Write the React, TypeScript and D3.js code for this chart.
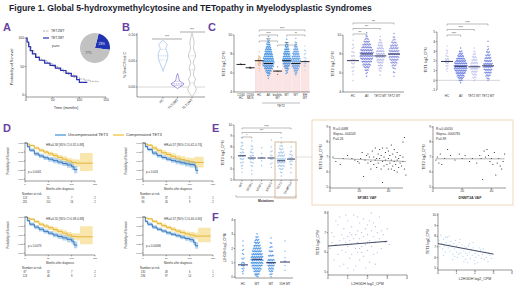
import React from "react";
import * as d3 from "d3";

const FONT = "'Liberation Sans', Arial, sans-serif";
const PURPLE = "#6b3fa0";
const INK = "#333";

const TITLE = "Figure 1. Global 5-hydroxymethylcytosine and TETopathy in Myelodysplastic Syndromes";

// ---------- Panel A ----------
const kmA_WT = [[0,100],[3,92],[6,85],[10,78],[15,72],[20,67],[25,63],[30,60],[40,55],[50,50],[60,45],[70,40],[80,35],[90,31],[100,28],[110,26],[120,24],[135,22]];
const kmA_MT = [[0,100],[2,93],[5,85],[8,78],[12,72],[18,66],[25,61],[35,56],[45,52],[55,47],[65,43],[75,38],[85,33],[95,27],[100,22],[115,22]];
const kmA_xTicks = [0, 50, 100, 150];
const kmA_yTicks = [0, 50, 100];
const pieLabels = ["TET2MT", "TET2WT"];
const pieValues = [23, 77];

// ---------- Panel B ----------
const bCats = ["HC", "TET2MT", "TET2WT"];
const bProfileHC = [[0.03,0],[0.035,1],[0.04,2.5],[0.045,4],[0.05,5.5],[0.055,6.5],[0.06,7],[0.065,6.5],[0.07,5],[0.074,4],[0.078,5],[0.082,6],[0.085,4],[0.088,1.5],[0.09,0]];
const bProfileMT = [[-0.003,0],[0,3],[0.003,7],[0.006,9],[0.009,6],[0.012,3],[0.016,2],[0.02,1.5],[0.024,0.5],[0.026,0]];
const bProfileWT = [[-0.02,0],[-0.015,2],[-0.01,4.5],[-0.005,6],[0,5],[0.005,3],[0.01,3.5],[0.015,5],[0.02,3],[0.025,2],[0.03,2.5],[0.035,4],[0.04,3.5],[0.045,2],[0.05,2.2],[0.055,4],[0.06,5],[0.065,4.5],[0.07,3],[0.075,2],[0.08,2.5],[0.085,3],[0.09,2.5],[0.095,1.5],[0.1,1],[0.104,0]];
const bQuartHC = [0.052, 0.06, 0.072];
const bQuartMT = [0.003, 0.006, 0.011];
const bQuartWT = [0.008, 0.033, 0.06];
const bTicks = [0, 0.05, 0.1];

// ---------- Panel C (left) ----------
const cLeftCats = ["CD34\nHC", "CD34\nMDS", "HC", "All", "biallelic\nMT", "MT", "WT", "EH\nWT"];
const cLeftMedians = [6.9, 6.55, 7.3, 7.0, 6.2, 7.3, 7.0, 7.2];
const cLeftBars = [0, 0, 7.3, 7.1, 6.3, 7.3, 7.1, 7.2];
const cLeftBins = [
  [[6.9,2]],
  [[6.5,2],[6.6,1]],
  [[8.2,1],[7.8,2],[7.6,3],[7.4,4],[7.2,4],[7.0,3],[6.8,2],[6.5,1],[6.3,1]],
  [[9.8,1],[9.5,2],[9.25,4],[9,6],[8.75,8],[8.5,10],[8.25,12],[8,14],[7.75,16],[7.5,18],[7.25,20],[7,20],[6.75,18],[6.5,14],[6.25,10],[6,6],[5.75,3],[5.5,1]],
  [[6.6,1],[6.2,2],[5.9,1]],
  [[9.5,1],[9.25,2],[9,4],[8.75,5],[8.5,7],[8.25,9],[8,11],[7.75,12],[7.5,14],[7.25,14],[7,12],[6.75,9],[6.5,6],[6.25,3],[6,2]],
  [[9.6,1],[9.25,2],[9,3],[8.75,5],[8.5,7],[8.25,9],[8,11],[7.75,13],[7.5,15],[7.25,16],[7,16],[6.75,13],[6.5,9],[6.25,6],[6,3],[5.75,1]],
  [[8.8,1],[8.4,2],[8,2],[7.6,3],[7.3,3],[7,3],[6.7,2],[6.3,1]],
];
const cLeftColors = ["#555", "#555", "#e2b27a", "#3b8de0", "#777", "#3b8de0", "#5a9de6", "#a9c8ee"];
const cLeftTicks = [4, 6, 8, 10];
const cLeftSig = [[2,7,"****"],[2,4,"****"],[5,7,"**"],[2,4,"****"],[4,6,"****"]];
const cLeftSigY = [30, 35, 35, 41, 45];

// ---------- Panel C (middle) ----------
const cMidCats = ["HC", "All", "TET2 MT", "TET2 WT"];
const cMidMedians = [7.3, 8.0, 7.8, 8.0];
const cMidBins = [
  [[9.4,1],[9,2],[8.6,2],[8.2,3],[7.8,4],[7.4,5],[7,4],[6.6,3],[6.2,2],[5.8,1],[5.2,1]],
  [[10.2,1],[9.9,2],[9.6,4],[9.3,7],[9,10],[8.7,13],[8.4,16],[8.1,18],[7.8,18],[7.5,16],[7.2,13],[6.9,10],[6.6,7],[6.3,4],[6,2],[5.6,1]],
  [[9.8,1],[9.5,2],[9.2,4],[8.9,6],[8.6,8],[8.3,10],[8,11],[7.7,11],[7.4,9],[7.1,7],[6.8,5],[6.5,3],[6.2,2],[5.8,1]],
  [[10.1,1],[9.8,2],[9.5,3],[9.2,6],[8.9,9],[8.6,11],[8.3,13],[8,14],[7.7,13],[7.4,11],[7.1,8],[6.8,5],[6.5,3],[6.1,2],[5.7,1]],
];
const cMidColors = ["#c5c5e0", "#7b83d8", "#b3b6e8", "#8b90dc"];
const cMidTicks = [4, 6, 8, 10];
const cMidSig = [[0,3,"***"],[0,2,"***"],[0,1,"***"]];

// ---------- Panel C (right) ----------
const cRightCats = ["HC", "All", "TET2 WT", "TET2 MT"];
const cRightMedians = [1.95, 1.45, 1.4, 1.5];
const cRightBins = [
  [[3.5,1],[3.1,2],[2.8,2],[2.5,3],[2.2,4],[2,5],[1.8,4],[1.5,3],[1.2,2],[0.9,1]],
  [[3.3,1],[3,3],[2.75,5],[2.5,8],[2.25,11],[2,14],[1.75,17],[1.5,19],[1.25,18],[1,16],[0.75,13],[0.5,10],[0.25,7],[0,4],[-0.2,1]],
  [[3.3,1],[3,2],[2.7,3],[2.4,5],[2.1,7],[1.8,9],[1.5,10],[1.2,10],[0.9,8],[0.6,6],[0.3,4],[0,2]],
  [[4,1],[3.5,1],[3.2,2],[2.9,4],[2.6,6],[2.3,8],[2,10],[1.7,12],[1.4,12],[1.1,11],[0.8,9],[0.5,6],[0.2,3],[0,1]],
];
const cRightColors = ["#c9c9e6", "#6d7ee0", "#c0c3ee", "#7685e0"];
const cRightTicks = [-1, 0, 1, 2, 3, 4, 5];
const cRightSig = [[0,3,"****"],[0,2,"****"],[0,1,"****"]];

// ---------- Panel D ----------
const D_HR = ["HR=0.58 [95% CI 0.32-0.88]", "HR=0.57 [95% CI 0.42-0.76]", "HR=0.55 [95% CI 0.38-0.88]", "HR=0.57 [95% CI 0.40-0.80]"];
const D_P = ["p = 0.0001", "p = 0.003", "p = 0.0073", "p = 0.00096"];
const D_RISK_UNC = [["124","51","7","2"],["99","37","5","1"],["87","32","7","2"],["130","48","6","1"]];
const D_RISK_COMP = [["281","114","16","2"],["96","34","9","2"],["124","46","9","2"],["236","97","14","2"]];
const kmD1Blue = [[0,1,1,1],[5,0.9,0.86,0.94],[10,0.8,0.75,0.85],[20,0.7,0.64,0.76],[30,0.64,0.58,0.7],[40,0.59,0.53,0.65],[50,0.55,0.48,0.61],[60,0.51,0.44,0.58],[70,0.47,0.4,0.54],[80,0.43,0.36,0.5],[90,0.39,0.31,0.47],[100,0.34,0.25,0.43],[105,0.26,0.16,0.36],[112,0.26,0.16,0.36]];
const kmD1Yellow = [[0,1,1,1],[5,0.97,0.95,0.99],[10,0.93,0.9,0.96],[20,0.86,0.82,0.9],[30,0.8,0.75,0.85],[40,0.75,0.69,0.8],[50,0.7,0.64,0.76],[60,0.65,0.58,0.72],[70,0.6,0.53,0.67],[80,0.55,0.47,0.63],[90,0.5,0.42,0.58],[100,0.46,0.37,0.55],[110,0.44,0.34,0.54],[118,0.44,0.22,0.72],[145,0.44,0.22,0.72]];
const kmD2Blue = [[0,1,1,1],[5,0.9,0.86,0.94],[10,0.82,0.77,0.87],[20,0.72,0.66,0.78],[30,0.65,0.59,0.71],[40,0.6,0.54,0.66],[50,0.55,0.49,0.61],[60,0.51,0.45,0.58],[70,0.48,0.41,0.55],[80,0.45,0.38,0.52],[90,0.42,0.35,0.5],[100,0.4,0.32,0.48],[110,0.38,0.29,0.47],[113,0.24,0.14,0.34],[118,0.24,0.14,0.34]];
const kmD2Yellow = [[0,1,1,1],[5,0.97,0.94,0.99],[10,0.94,0.9,0.97],[20,0.86,0.8,0.91],[30,0.79,0.72,0.85],[40,0.73,0.66,0.8],[50,0.68,0.6,0.75],[60,0.63,0.55,0.71],[70,0.58,0.5,0.66],[80,0.54,0.45,0.63],[90,0.51,0.42,0.6],[100,0.48,0.38,0.58],[110,0.46,0.32,0.62],[130,0.46,0.3,0.64]];
const kmD3Blue = [[0,1,1,1],[5,0.9,0.86,0.94],[10,0.8,0.75,0.85],[20,0.72,0.66,0.78],[30,0.66,0.6,0.72],[40,0.6,0.54,0.66],[50,0.55,0.49,0.61],[60,0.5,0.44,0.57],[70,0.46,0.39,0.53],[80,0.42,0.35,0.49],[90,0.38,0.3,0.46],[100,0.33,0.25,0.42],[105,0.22,0.13,0.32],[112,0.22,0.13,0.32]];
const kmD3Yellow = [[0,1,1,1],[5,0.97,0.95,0.99],[10,0.94,0.91,0.97],[20,0.87,0.83,0.91],[30,0.8,0.75,0.85],[40,0.75,0.69,0.8],[50,0.7,0.64,0.76],[60,0.65,0.58,0.72],[70,0.6,0.53,0.67],[80,0.55,0.47,0.63],[90,0.5,0.42,0.58],[100,0.46,0.37,0.55],[110,0.45,0.35,0.55],[118,0.45,0.24,0.74],[145,0.45,0.24,0.74]];
const kmD4Blue = [[0,1,1,1],[5,0.88,0.84,0.92],[10,0.8,0.75,0.85],[20,0.72,0.67,0.77],[30,0.66,0.61,0.71],[40,0.61,0.56,0.66],[50,0.56,0.51,0.61],[60,0.52,0.47,0.57],[70,0.48,0.43,0.54],[80,0.44,0.38,0.5],[90,0.4,0.34,0.46],[100,0.37,0.3,0.44],[108,0.3,0.22,0.38],[112,0.2,0.12,0.3],[118,0.2,0.12,0.3]];
const kmD4Yellow = [[0,1,1,1],[5,0.97,0.95,0.99],[10,0.95,0.92,0.97],[20,0.88,0.84,0.92],[30,0.82,0.77,0.86],[40,0.76,0.71,0.81],[50,0.71,0.65,0.76],[60,0.66,0.6,0.72],[70,0.61,0.55,0.67],[80,0.57,0.5,0.64],[90,0.53,0.46,0.6],[100,0.5,0.42,0.58],[110,0.47,0.38,0.56],[118,0.47,0.3,0.7],[145,0.47,0.3,0.7]];
const kmDxTicks = [0, 50, 100, 150];
const kmDyTicks = [0, 0.25, 0.5, 0.75, 1];

// ---------- Panel E ----------
const eCats = ["WT", "SF3B1", "U2AF1", "SRSF2", "TET2", "DNMT3A"];
const eMedians = [7.2, 7.0, 7.0, 7.0, 6.75, 6.9];
const eBins = [
  [[8.8,1],[8.4,2],[8.1,2],[7.8,3],[7.5,4],[7.2,5],[6.9,4],[6.6,3],[6.3,2],[6,1],[5.7,1]],
  [[8.5,1],[8.1,2],[7.8,2],[7.5,3],[7.2,4],[6.9,4],[6.6,3],[6.3,2],[5.9,1],[5.5,1]],
  [[7.9,1],[7.4,1],[7.0,2],[6.7,1],[6.3,1]],
  [[8.6,1],[8.0,1],[7.6,2],[7.2,2],[6.9,2],[6.5,2],[6.1,1]],
  [[8.8,1],[8.4,2],[8.1,3],[7.8,4],[7.5,6],[7.2,8],[6.9,10],[6.6,9],[6.3,7],[6,4],[5.7,2],[5.4,1]],
  [[8.4,1],[8,1],[7.6,2],[7.3,3],[7,4],[6.7,3],[6.4,2],[6.1,1],[5.7,1]],
];
const eTicks = [5, 6, 7, 8, 9, 10];
const eSig = [[0,5,"****"],[0,4,"***"],[0,1,"*"]];

const sf3b1Points = [[2,7.0],[4,6.7],[7,6.5],[9,6.9],[12,7.1],[15,6.9],[17,6.8],[19,6.7],[20,6.6],[21,6.9],[22,7.3],[23,5.7],[24,6.8],[25,7.1],[26,6.6],[27,7.0],[28,6.7],[29,7.4],[30,6.5],[30,7.0],[31,7.6],[31,6.8],[32,6.3],[33,7.2],[33,6.6],[34,7.5],[34,6.9],[35,6.2],[35,7.1],[36,6.7],[36,5.3],[37,7.0],[37,6.4],[38,7.3],[38,6.8],[39,6.5],[39,7.6],[40,6.9],[40,6.2],[41,7.1],[41,6.6],[42,7.8],[42,6.8],[43,6.4],[43,7.2],[44,6.7],[44,6.1],[45,7.0],[45,6.5],[46,7.3],[46,6.8],[47,6.3],[47,6.9],[48,7.1],[48,6.6],[49,6.4],[50,7.0],[50,6.7],[51,8.3],[51,6.2],[52,5.8],[50,8.0],[36,7.6],[40,7.4],[44,7.5],[32,6.9],[28,6.2],[26,7.2],[46,6.0],[42,6.2]];
const sf3b1Fit = [6.92, -0.004243];
const sf3b1Stats = ["R\u00b2=0.0088", "Slope=-.004243", "P=0.26"];
const dnmt3aPoints = [[2,6.8],[3,7.0],[4,6.6],[5,7.2],[6,6.5],[8,6.9],[10,7.5],[12,7.1],[15,6.8],[18,7.2],[20,6.9],[22,7.1],[25,6.7],[27,6.9],[30,6.6],[32,7.1],[33,6.9],[34,5.5],[35,7.4],[36,7.0],[37,7.5],[38,7.1],[39,6.7],[40,6.9],[41,6.5],[42,7.3],[43,5.8],[44,6.6],[45,6.9],[46,6.4],[47,6.2],[48,6.7],[49,7.2]];
const dnmt3aFit = [6.88, -0.0000781];
const dnmt3aStats = ["R\u00b2=0.00050", "Slope=-.0000781", "P=0.89"];
const vafTicks = [0, 20, 40];
const vafYTicks = [5, 6, 7, 8, 9];

// ---------- Panel F ----------
const fCats = ["HC", "WT", "MT", "IDH MT"];
const fMedians = [0.85, 1.25, 1.0, 1.05];
const fBins = [
  [[2.5,1],[2.2,1],[1.9,2],[1.6,2],[1.3,3],[1.0,4],[0.8,4],[0.6,3],[0.4,2],[0.2,1]],
  [[3,1],[2.8,3],[2.6,5],[2.4,7],[2.2,9],[2,11],[1.8,13],[1.6,15],[1.4,17],[1.2,18],[1,17],[0.8,15],[0.6,12],[0.4,9],[0.2,6],[0.05,3]],
  [[2.7,1],[2.4,2],[2.1,3],[1.8,5],[1.5,7],[1.2,9],[1,10],[0.8,9],[0.6,7],[0.4,5],[0.2,3],[0.05,1]],
  [[2.5,1],[1.8,1],[1.4,1],[1.1,2],[0.8,1],[0.5,1]],
];
const fColors = ["#5b9be0", "#3f8ee2", "#4b8fe0", "#7fb0ea"];
const fTicks = [0, 1, 2, 3, 4];

const tet3L2Points = [[0.1,6.2],[0.2,7.0],[0.3,5.6],[0.3,6.8],[0.4,6.4],[0.5,7.4],[0.5,5.9],[0.6,6.6],[0.6,7.8],[0.7,6.1],[0.7,6.9],[0.8,5.4],[0.8,7.2],[0.9,6.5],[0.9,6.0],[1.0,7.6],[1.0,6.3],[1.0,6.8],[1.1,5.7],[1.1,7.0],[1.2,6.4],[1.2,7.3],[1.2,5.9],[1.3,6.7],[1.3,7.9],[1.4,6.2],[1.4,6.9],[1.4,5.3],[1.5,7.1],[1.5,6.5],[1.5,6.0],[1.6,7.5],[1.6,6.7],[1.6,5.6],[1.7,6.3],[1.7,7.0],[1.8,6.8],[1.8,5.8],[1.8,7.7],[1.9,6.4],[1.9,7.2],[2.0,6.1],[2.0,6.9],[2.0,7.4],[2.1,5.5],[2.1,6.6],[2.2,7.1],[2.2,6.3],[2.3,6.8],[2.3,5.9],[2.4,7.3],[2.4,6.5],[2.5,6.0],[2.5,7.0],[2.6,6.7],[2.6,7.8],[2.7,6.2],[2.8,6.9],[2.9,6.5],[3.0,7.2],[3.1,6.4],[0.2,6.5],[0.4,7.6],[0.6,5.3],[0.9,7.9],[1.1,6.6],[1.3,5.1],[1.7,6.0],[2.1,7.6],[2.4,5.4],[1.9,5.2],[2.2,8.0],[0.8,6.7],[1.5,7.8],[1.0,5.2],[1.2,6.9],[1.6,6.2],[2.0,6.5],[2.3,7.5],[2.7,7.1]];
const tet3L2Fit = [6.32, 0.08];
const tet1L2Points = [[0.05,7.6],[0.1,7.0],[0.15,8.1],[0.2,7.3],[0.25,6.8],[0.3,7.7],[0.35,7.1],[0.4,6.5],[0.45,7.4],[0.5,7.9],[0.55,6.9],[0.6,7.2],[0.65,6.6],[0.7,7.5],[0.75,7.0],[0.8,6.3],[0.85,7.3],[0.9,6.8],[0.95,7.6],[1.0,6.5],[1.0,7.1],[1.05,6.0],[1.1,6.9],[1.15,7.4],[1.2,6.4],[1.25,6.8],[1.3,7.2],[1.35,6.1],[1.4,6.6],[1.45,7.0],[1.5,5.8],[1.5,6.4],[1.55,6.9],[1.6,6.2],[1.65,7.1],[1.7,6.5],[1.75,5.9],[1.8,6.7],[1.85,6.2],[1.9,6.9],[1.95,5.7],[2.0,6.4],[2.05,6.0],[2.1,6.6],[2.15,5.5],[2.2,6.2],[2.3,6.7],[2.35,5.9],[2.4,6.3],[2.5,5.8],[2.55,6.5],[2.6,6.0],[2.7,5.6],[2.8,6.2],[2.9,5.9],[0.3,6.2],[0.6,8.0],[0.9,6.1],[1.2,7.7],[1.4,5.6],[1.7,7.3],[2.0,5.4],[2.25,6.9],[0.4,7.9],[0.8,5.8],[1.1,6.3],[1.6,5.5],[1.9,7.4],[2.45,6.8],[2.75,6.4]];
const tet1L2Fit = [7.3, -0.33];
const l2Ticks = [0, 1, 2, 3, 4];
const tet3L2YTicks = [5, 6, 7, 8];
const tet1L2YTicks = [5, 6, 7, 8, 9, 10];

// ================= helpers =================
function AxisL({ scale, x, ticks, fmt = (d: any) => String(d), fs = 3.4, y0, y1 }: any) {
  const r = scale.range();
  const a = y0 !== undefined ? y0 : r[0];
  const b = y1 !== undefined ? y1 : r[1];
  return (
    <g>
      <line x1={x} x2={x} y1={a} y2={b} stroke={INK} strokeWidth={0.5} />
      {ticks.map((t: number) => (
        <g key={t}>
          <line x1={x - 1.3} x2={x} y1={scale(t)} y2={scale(t)} stroke={INK} strokeWidth={0.5} />
          <text x={x - 1.9} y={scale(t)} dy="0.35em" fontSize={fs} textAnchor="end" fill={INK}>{fmt(t)}</text>
        </g>
      ))}
    </g>
  );
}

function AxisB({ scale, y, ticks, fmt = (d: any) => String(d), fs = 3.4, x0, x1 }: any) {
  const r = scale.range();
  const a = x0 !== undefined ? x0 : r[0];
  const b = x1 !== undefined ? x1 : r[1];
  return (
    <g>
      <line x1={a} x2={b} y1={y} y2={y} stroke={INK} strokeWidth={0.5} />
      {ticks.map((t: number) => (
        <g key={t}>
          <line x1={scale(t)} x2={scale(t)} y1={y} y2={y + 1.3} stroke={INK} strokeWidth={0.5} />
          <text x={scale(t)} y={y + 4.4} fontSize={fs} textAnchor="middle" fill={INK}>{fmt(t)}</text>
        </g>
      ))}
    </g>
  );
}

function VLabel({ x, y, text, fs = 3.6 }: any) {
  return (
    <text transform={`translate(${x},${y}) rotate(-90)`} fontSize={fs} textAnchor="middle" fill={INK}>{text}</text>
  );
}

function Letter({ x, y, t }: any) {
  return <text x={x} y={y} fontSize={11} fontWeight="bold" fill={PURPLE}>{t}</text>;
}

function Swarm({ bins, cx, y, color, r = 0.75, maxHalf = 5, step = 1.2, opacity = 1, maxN }: any) {
  const mN = maxN || d3.max(bins, (b: any) => b[1]);
  const out: any[] = [];
  bins.forEach(([v, n]: any, bi: number) => {
    const w = Math.min(((n - 1) * step) / 2, (maxHalf * n) / mN);
    for (let i = 0; i < n; i++) {
      const off = n === 1 ? 0 : -w + (2 * w * i) / (n - 1);
      const jy = (((i + bi) % 3) - 1) * 0.45;
      out.push(<circle key={bi + "-" + i} cx={cx + off} cy={y(v) + jy} r={r} fill={color} fillOpacity={opacity} />);
    }
  });
  return <g>{out}</g>;
}

function Bracket({ x1, x2, y, label, fs = 3.2 }: any) {
  return (
    <g>
      <path d={`M${x1},${y + 1.5}V${y}H${x2}V${y + 1.5}`} fill="none" stroke="#555" strokeWidth={0.4} />
      <text x={(x1 + x2) / 2} y={y - 0.5} fontSize={fs} textAnchor="middle" fill={INK}>{label}</text>
    </g>
  );
}

function widthAt(profile: number[][], v: number) {
  for (let i = 0; i < profile.length - 1; i++) {
    const [a, wa] = profile[i];
    const [b, wb] = profile[i + 1];
    if (v >= a && v <= b) return wa + ((wb - wa) * (v - a)) / (b - a);
  }
  return 0;
}

// ================= Panels =================
function PanelA() {
  const x = d3.scaleLinear([0, 150], [26, 106]);
  const y = d3.scaleLinear([0, 100], [95, 38]);
  const line = d3.line().x((d: any) => x(d[0])).y((d: any) => y(d[1])).curve(d3.curveStepAfter);
  const pie = d3.pie().sort(null).startAngle(0.25).endAngle(0.25 + Math.PI * 2)(pieValues);
  const arc = d3.arc().innerRadius(0).outerRadius(15);
  const arcL = d3.arc().innerRadius(8).outerRadius(8);
  const pieColors = ["#1f33b3", "#c2c2c2"];
  return (
    <g>
      <Letter x={3} y={31} t="A" />
      <AxisL scale={y} x={26} ticks={kmA_yTicks} y0={97} y1={38} />
      <AxisB scale={x} y={97} ticks={kmA_xTicks} />
      <text x={66} y={109} fontSize={3.8} textAnchor="middle" fill={INK}>Time (months)</text>
      <VLabel x={13} y={67} text="Probability of Survival" fs={3.8} />
      <path d={line(kmA_WT as any) || ""} fill="none" stroke="#9a9a9a" strokeWidth={0.8} strokeDasharray="2,0.8" />
      <path d={line(kmA_MT as any) || ""} fill="none" stroke="#2a2fb0" strokeWidth={1.2} />
      <line x1={43} x2={49} y1={31} y2={31} stroke="#9a9a9a" strokeWidth={0.8} strokeDasharray="2,0.8" />
      <text x={51} y={32.2} fontSize={3.4} fill={INK}>{pieLabels[1]}</text>
      <line x1={43} x2={49} y1={38} y2={38} stroke="#2a2fb0" strokeWidth={1.2} />
      <text x={51} y={39.2} fontSize={3.4} fill={INK}>{pieLabels[0]}</text>
      <text x={52} y={47} fontSize={3.4} fill={INK}>p=ns</text>
      <g transform="translate(95,48)">
        {pie.map((s: any, i: number) => (
          <path key={i} d={arc(s) || ""} fill={pieColors[i]} />
        ))}
        {pie.map((s: any, i: number) => {
          const [cx, cy] = arcL.centroid(s);
          return (
            <text key={"t" + i} x={cx} y={cy} dy="0.35em" fontSize={3.2} textAnchor="middle" fill={i === 0 ? "#fff" : "#555"}>
              {pieValues[i] + "%"}
            </text>
          );
        })}
      </g>
    </g>
  );
}

function PanelB() {
  const y = d3.scaleLinear([0, 0.1], [87, 35]);
  const x = d3.scalePoint(bCats, [163, 192]);
  const ws = d3.scaleLinear([0, 10], [0, 7]);
  const profiles = [bProfileHC, bProfileMT, bProfileWT];
  const quarts = [bQuartHC, bQuartMT, bQuartWT];
  const colors = ["#8db1e2", "#5c4fc4", "#a8a8a8"];
  return (
    <g>
      <Letter x={122} y={31} t="B" />
      <AxisL scale={y} x={137} ticks={bTicks} fmt={d3.format(".2f")} y0={97} y1={33} />
      <line x1={137} x2={205} y1={97} y2={97} stroke={INK} strokeWidth={0.5} />
      <line x1={137} x2={205} y1={y(0)} y2={y(0)} stroke="#999" strokeWidth={0.4} />
      <VLabel x={126} y={65} text="% 5hmC/Total C" fs={3.6} />
      {bCats.map((c, i) => {
        const cx = x(c) as number;
        const area = d3
          .area()
          .y((d: any) => y(d[0]))
          .x0((d: any) => cx - ws(d[1]))
          .x1((d: any) => cx + ws(d[1]))
          .curve(d3.curveCatmullRom);
        return (
          <g key={c}>
            <path d={area(profiles[i] as any) || ""} fill="#fff" stroke={colors[i]} strokeWidth={0.6} />
            {quarts[i].map((q, j) => {
              const w = ws(widthAt(profiles[i], q));
              return (
                <line key={j} x1={cx - w} x2={cx + w} y1={y(q)} y2={y(q)} stroke={colors[i]} strokeWidth={0.5} strokeDasharray={j === 1 ? "1.5,0.8" : "0.6,0.6"} />
              );
            })}
            <line x1={cx} x2={cx} y1={97} y2={98.3} stroke={INK} strokeWidth={0.5} />
            <text transform={`translate(${cx + 1},${100}) rotate(-45)`} fontSize={3.4} textAnchor="end" fill={INK}>{c}</text>
          </g>
        );
      })}
      <line x1={152} x2={182} y1={39} y2={39} stroke="#555" strokeWidth={0.5} />
      <text x={167} y={38.3} fontSize={3.4} textAnchor="middle" fill={INK}>***</text>
      <line x1={180} x2={205} y1={32} y2={32} stroke="#555" strokeWidth={0.5} />
      <text x={192} y={31.3} fontSize={3.4} textAnchor="middle" fill={INK}>***</text>
    </g>
  );
}

function PanelCLeft() {
  const y = d3.scaleLinear([4, 10], [92, 35]);
  const x = d3.scalePoint(cLeftCats, [241, 305]);
  return (
    <g>
      <Letter x={208} y={31} t="C" />
      {cLeftCats.map((c, i) =>
        cLeftBars[i] > 0 ? (
          <rect key={c} x={(x(c) as number) - 4} y={y(cLeftBars[i])} width={8} height={92 - y(cLeftBars[i])} fill="#fbe4e4" stroke="#f4caca" strokeWidth={0.3} />
        ) : null
      )}
      <AxisL scale={y} x={234} ticks={cLeftTicks} />
      <AxisB scale={x} y={92} ticks={[]} x0={234} x1={310} />
      <VLabel x={225} y={64} text="TET3 log2_CPM" fs={3.4} />
      {cLeftCats.map((c, i) => (
        <g key={c}>
          <Swarm bins={cLeftBins[i]} cx={x(c)} y={y} color={cLeftColors[i]} r={0.7} maxHalf={5.5} step={1.1} maxN={20} opacity={0.85} />
          <line x1={(x(c) as number) - 4.5} x2={(x(c) as number) + 4.5} y1={y(cLeftMedians[i])} y2={y(cLeftMedians[i])} stroke="#111" strokeWidth={0.9} />
          {c.split("\n").map((s, k) => (
            <text key={k} x={x(c)} y={96 + k * 3.4} fontSize={2.9} textAnchor="middle" fill={INK}>{s}</text>
          ))}
        </g>
      ))}
      <line x1={262} x2={300} y1={103} y2={103} stroke="#555" strokeWidth={0.4} />
      <text x={281} y={106.5} fontSize={3.2} textAnchor="middle" fill={INK}>TET2</text>
      {cLeftSig.map((s: any, k) => (
        <Bracket key={k} x1={x(cLeftCats[s[0]])} x2={x(cLeftCats[s[1]])} y={cLeftSigY[k]} label={s[2]} fs={2.8} />
      ))}
    </g>
  );
}

function PanelCMid() {
  const y = d3.scaleLinear([4, 10], [92, 35]);
  const x = d3.scalePoint(cMidCats, [353, 394]);
  return (
    <g>
      <AxisL scale={y} x={343} ticks={cMidTicks} />
      <AxisB scale={x} y={92} ticks={[]} x0={343} x1={404} />
      <VLabel x={334} y={64} text="TET2 log2_CPM" fs={3.4} />
      {cMidCats.map((c, i) => (
        <g key={c}>
          <Swarm bins={cMidBins[i]} cx={x(c)} y={y} color={cMidColors[i]} r={0.75} maxHalf={6.5} step={1.1} maxN={18} opacity={0.9} />
          <line x1={(x(c) as number) - 6} x2={(x(c) as number) + 6} y1={y(cMidMedians[i])} y2={y(cMidMedians[i])} stroke="#1c2350" strokeWidth={0.9} />
          <text x={x(c)} y={96.5} fontSize={3} textAnchor="middle" fill={INK}>{c}</text>
        </g>
      ))}
      {cMidSig.map((s: any, k) => (
        <Bracket key={k} x1={x(cMidCats[s[0]])} x2={x(cMidCats[s[1]])} y={23 + k * 5.5} label={s[2]} fs={2.8} />
      ))}
    </g>
  );
}

function PanelCRight() {
  const y = d3.scaleLinear([-1, 5], [90, 32]);
  const x = d3.scalePoint(cRightCats, [447, 488]);
  return (
    <g>
      <AxisL scale={y} x={437} ticks={cRightTicks} />
      <line x1={437} x2={500} y1={y(0)} y2={y(0)} stroke="#aab" strokeWidth={0.5} />
      <VLabel x={427} y={60} text="TET1 log2_CPM" fs={3.4} />
      {cRightCats.map((c, i) => (
        <g key={c}>
          <Swarm bins={cRightBins[i]} cx={x(c)} y={y} color={cRightColors[i]} r={0.75} maxHalf={6.5} step={1.1} maxN={19} opacity={0.9} />
          <line x1={(x(c) as number) - 6} x2={(x(c) as number) + 6} y1={y(cRightMedians[i])} y2={y(cRightMedians[i])} stroke="#1c2350" strokeWidth={0.9} />
          <text x={x(c)} y={96.5} fontSize={3} textAnchor="middle" fill={INK}>{c}</text>
        </g>
      ))}
      {cRightSig.map((s: any, k) => (
        <Bracket key={k} x1={x(cRightCats[s[0]])} x2={x(cRightCats[s[1]])} y={24 + k * 5.5} label={s[2]} fs={2.8} />
      ))}
    </g>
  );
}

function KMSmall({ x0, yTop, yBot, blue, yellow, hr, p, riskU, riskC }: any) {
  const x = d3.scaleLinear([0, 150], [x0, x0 + 70]);
  const y = d3.scaleLinear([0, 1], [yBot, yTop]);
  const line = d3.line().x((d: any) => x(d[0])).y((d: any) => y(d[1])).curve(d3.curveStepAfter);
  const band = d3.area().x((d: any) => x(d[0])).y0((d: any) => y(d[2])).y1((d: any) => y(d[3])).curve(d3.curveStepAfter);
  return (
    <g>
      <AxisL scale={y} x={x0} ticks={kmDyTicks} fmt={d3.format(".2f")} fs={2.5} y0={yBot + 2} y1={yTop} />
      <AxisB scale={x} y={yBot + 2} ticks={kmDxTicks} fs={2.5} />
      <VLabel x={x0 - 16} y={(yTop + yBot) / 2} text="Probability of Survival" fs={2.8} />
      <path d={band(yellow) || ""} fill="#f2d26a" fillOpacity={0.55} />
      <path d={band(blue) || ""} fill="#74b0e6" fillOpacity={0.55} />
      <path d={line(yellow) || ""} fill="none" stroke="#e2b12a" strokeWidth={0.9} />
      <path d={line(blue) || ""} fill="none" stroke="#2b6ab3" strokeWidth={0.9} />
      <text x={x0 + 40} y={yTop + 3} fontSize={3} textAnchor="middle" fill={INK}>{hr}</text>
      <text x={x0 + 3} y={yBot - 6} fontSize={2.8} fill={INK}>{p}</text>
      <text x={x0 + 35} y={yBot + 10.5} fontSize={2.8} textAnchor="middle" fill={INK}>Months after diagnosis</text>
      <text x={x0 - 3} y={yBot + 15.5} fontSize={3} fill={INK}>Number at risk</text>
      {kmDxTicks.map((t, i) => (
        <g key={t}>
          <text x={x(t)} y={yBot + 20} fontSize={2.6} textAnchor="middle" fill={INK}>{riskU[i]}</text>
          <text x={x(t)} y={yBot + 24} fontSize={2.6} textAnchor="middle" fill={INK}>{riskC[i]}</text>
        </g>
      ))}
    </g>
  );
}

function PanelD() {
  const blues = [kmD1Blue, kmD2Blue, kmD3Blue, kmD4Blue];
  const yellows = [kmD1Yellow, kmD2Yellow, kmD3Yellow, kmD4Yellow];
  const xs = [25, 143, 25, 143];
  const tops = [143, 143, 217, 217];
  const bots = [179, 179, 253, 253];
  return (
    <g>
      <Letter x={3} y={132} t="D" />
      <line x1={55} x2={66} y1={135} y2={135} stroke="#4a98de" strokeWidth={1.3} />
      <text x={68} y={136.4} fontSize={4} fill={INK}>Uncompensated TET3</text>
      <line x1={113} x2={124} y1={135} y2={135} stroke="#f0c640" strokeWidth={1.3} />
      <text x={126} y={136.4} fontSize={4} fill={INK}>Compensated TET3</text>
      {blues.map((b, i) => (
        <KMSmall key={i} x0={xs[i]} yTop={tops[i]} yBot={bots[i]} blue={b} yellow={yellows[i]} hr={D_HR[i]} p={D_P[i]} riskU={D_RISK_UNC[i]} riskC={D_RISK_COMP[i]} />
      ))}
    </g>
  );
}

function PanelE() {
  const y = d3.scaleLinear([5, 10], [180, 125]);
  const x = d3.scalePoint(eCats, [242, 291]);
  return (
    <g>
      <Letter x={212} y={132} t="E" />
      <AxisL scale={y} x={234} ticks={eTicks} fs={3.2} />
      <AxisB scale={x} y={180} ticks={[]} x0={234} x1={298} />
      <VLabel x={224} y={153} text="TET3 log2_CPM" fs={3.4} />
      {eCats.map((c, i) => (
        <g key={c}>
          <Swarm bins={eBins[i]} cx={x(c)} y={y} color="#a8c8ec" r={0.75} maxHalf={4} step={1.2} maxN={10} />
          <line x1={(x(c) as number) - 4} x2={(x(c) as number) + 4} y1={y(eMedians[i])} y2={y(eMedians[i])} stroke="#1c2350" strokeWidth={0.9} />
          <line x1={x(c)} x2={x(c)} y1={180} y2={181.3} stroke={INK} strokeWidth={0.5} />
          <text transform={`translate(${(x(c) as number) + 1},${183}) rotate(-60)`} fontSize={3.2} textAnchor="end" fill={INK}>{c}</text>
        </g>
      ))}
      <path d="M236,195V197H296V195" fill="none" stroke="#555" strokeWidth={0.4} />
      <text x={266} y={202} fontSize={3.4} fontWeight="bold" textAnchor="middle" fill={INK}>Mutations</text>
      {eSig.map((s: any, k) => (
        <Bracket key={k} x1={x(eCats[s[0]])} x2={x(eCats[s[1]])} y={128 + k * 4.5} label={s[2]} fs={2.8} />
      ))}
      <rect x={275} y={142} width={21} height={56} fill="none" stroke="#d9c2a5" strokeWidth={1.1} />
      <line x1={296} x2={312} y1={157} y2={157} stroke="#c9c9c9" strokeWidth={0.6} />
      <rect x={312} y={120} width={201} height={85} fill="none" stroke="#f0d8bd" strokeWidth={1} />
      <VafScatter x0={330} points={sf3b1Points} fit={sf3b1Fit} stats={sf3b1Stats} xlabel="SF3B1 VAF" />
      <VafScatter x0={433} points={dnmt3aPoints} fit={dnmt3aFit} stats={dnmt3aStats} xlabel="DNMT3A VAF" />
    </g>
  );
}

function VafScatter({ x0, points, fit, stats, xlabel }: any) {
  const x = d3.scaleLinear([0, 50], [x0, x0 + 73]);
  const y = d3.scaleLinear([5, 9], [187, 127]);
  const xs = d3.extent(points, (d: any) => d[0]) as any;
  return (
    <g>
      <AxisL scale={y} x={x0} ticks={vafYTicks} fs={3.2} y0={188} y1={126} />
      <AxisB scale={x} y={188} ticks={vafTicks} fs={3.2} />
      <VLabel x={x0 - 8} y={157} text="TET3 log2_CPM" fs={3.4} />
      <text x={x0 + 37} y={199} fontSize={3.6} fontWeight="bold" textAnchor="middle" fill={INK}>{xlabel}</text>
      {points.map((d: any, i: number) => (
        <circle key={i} cx={x(d[0])} cy={y(d[1])} r={0.6} fill="#222" />
      ))}
      <line x1={x(xs[0])} x2={x(xs[1])} y1={y(fit[0] + fit[1] * xs[0])} y2={y(fit[0] + fit[1] * xs[1])} stroke="#666" strokeWidth={0.5} />
      {stats.map((s: string, i: number) => (
        <text key={i} x={x0 + 3} y={130 + i * 4.8} fontSize={3.2} fill={INK}>{s}</text>
      ))}
    </g>
  );
}

function PanelF() {
  const y = d3.scaleLinear([0, 4], [277, 220]);
  const x = d3.scalePoint(fCats, [243, 285]);
  return (
    <g>
      <Letter x={212} y={221} t="F" />
      <AxisL scale={y} x={235} ticks={fTicks} fs={3.2} y0={278} y1={219} />
      <AxisB scale={x} y={278} ticks={[]} x0={235} x1={293} />
      <VLabel x={226} y={248} text="L2HGDH log2_CPM" fs={3.2} />
      {fCats.map((c, i) => (
        <g key={c}>
          <Swarm bins={fBins[i]} cx={x(c)} y={y} color={fColors[i]} r={0.75} maxHalf={6} step={1.1} maxN={18} opacity={0.85} />
          <line x1={(x(c) as number) - 5} x2={(x(c) as number) + 5} y1={y(fMedians[i])} y2={y(fMedians[i])} stroke="#1c2350" strokeWidth={0.9} />
          <text x={x(c)} y={285} fontSize={3.2} textAnchor="middle" fill={INK}>{c}</text>
        </g>
      ))}
    </g>
  );
}

function L2Scatter({ x0, x1, yDom, yRange, yTicks, points, fit, color, ylabel, axisY }: any) {
  const x = d3.scaleLinear([0, 4], [x0, x1]);
  const y = d3.scaleLinear(yDom, yRange);
  return (
    <g>
      <AxisL scale={y} x={x0} ticks={yTicks} fs={3.2} y0={axisY} y1={yRange[1] - 2} />
      <AxisB scale={x} y={axisY} ticks={l2Ticks} fs={3.2} />
      <VLabel x={x0 - 9} y={(yRange[0] + yRange[1]) / 2} text={ylabel} fs={3.4} />
      <text x={(x0 + x1) / 2} y={axisY + 10} fontSize={3.6} textAnchor="middle" fill={INK}>L2HGDH log2_CPM</text>
      {points.map((d: any, i: number) => (
        <circle key={i} cx={x(d[0])} cy={y(d[1])} r={0.65} fill={color} fillOpacity={0.55} />
      ))}
      <line x1={x(0)} x2={x(3)} y1={y(fit[0])} y2={y(fit[0] + fit[1] * 3)} stroke="#2b3650" strokeWidth={0.9} />
    </g>
  );
}

export default function App() {
  return (
    <svg width={520} height={292} viewBox="0 0 520 292" style={{ position: "absolute", left: 0, top: 0, fontFamily: FONT, background: "#fff" }}>
      <rect width={520} height={292} fill="#fff" />
      <text x={9} y={11} fontSize={8.6} fontWeight="bold" fill="#1b1b2f">{TITLE}</text>
      <PanelA />
      <PanelB />
      <PanelCLeft />
      <PanelCMid />
      <PanelCRight />
      <PanelD />
      <PanelE />
      <PanelF />
      <L2Scatter x0={328} x1={407} yDom={[5, 8]} yRange={[272, 213]} yTicks={tet3L2YTicks} points={tet3L2Points} fit={tet3L2Fit} color="#8888d4" ylabel="TET3 log2_CPM" axisY={275} />
      <L2Scatter x0={438} x1={512} yDom={[5, 10]} yRange={[268, 215]} yTicks={tet1L2YTicks} points={tet1L2Points} fit={tet1L2Fit} color="#7cb2e6" ylabel="TET1 log2_CPM" axisY={270} />
    </svg>
  );
}
